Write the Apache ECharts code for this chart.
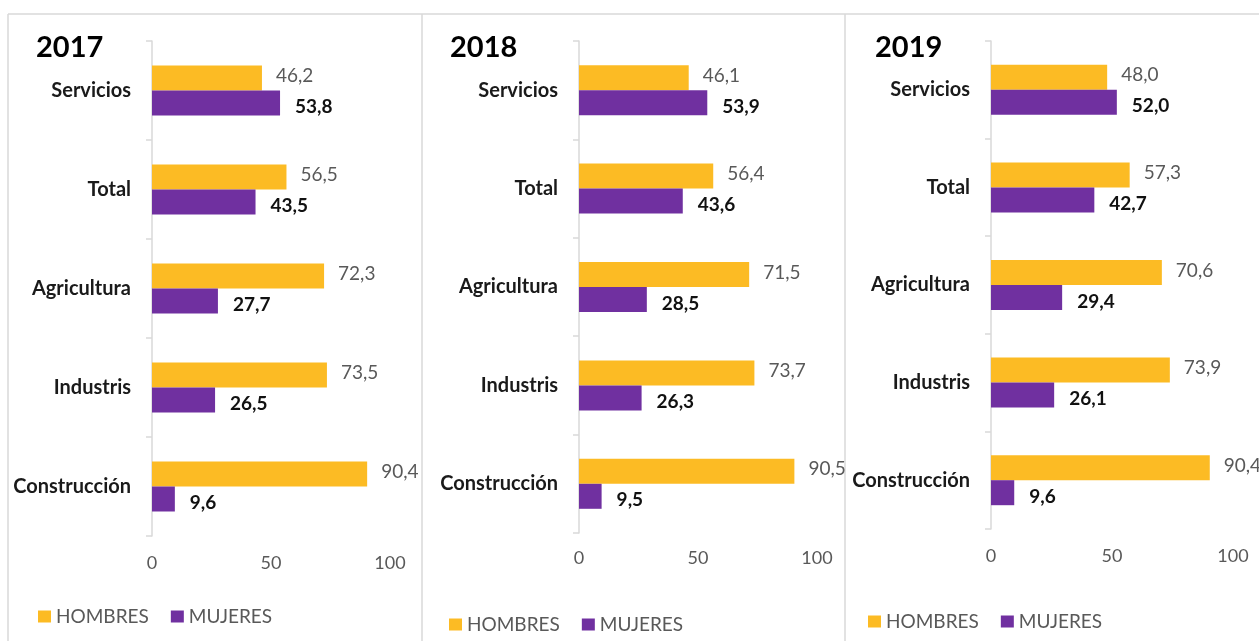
<!DOCTYPE html>
<html>
<head>
<meta charset="utf-8">
<script src="https://cdn.jsdelivr.net/npm/echarts@6/dist/echarts.min.js"></script>
<style>
	html, body { margin: 0; padding: 0; background: #fff; }
	#main { width: 1259px; height: 641px; }
</style>
</head>
<body>
<div id="main"></div>
<script>
var categories = ["Servicios", "Total", "Agricultura", "Industris", "Construcción"];
var years = ["2017", "2018", "2019"];
var seriesNames = ["HOMBRES", "MUJERES"];
var hombres2017 = [46.2, 56.5, 72.3, 73.5, 90.4];
var mujeres2017 = [53.8, 43.5, 27.7, 26.5, 9.6];
var hombres2018 = [46.1, 56.4, 71.5, 73.7, 90.5];
var mujeres2018 = [53.9, 43.6, 28.5, 26.3, 9.5];
var hombres2019 = [48.0, 57.3, 70.6, 73.9, 90.4];
var mujeres2019 = [52.0, 42.7, 29.4, 26.1, 9.6];
var xTicks = [0, 50, 100];

(function() {
	var chart = echarts.init(document.getElementById("main"));
	var font = "Lato, 'Noto Sans', sans-serif";
	var yellow = "#FCBB24", purple = "#7030A0", grey = "#D9D9D9";
	var values = [[hombres2017, mujeres2017], [hombres2018, mujeres2018], [hombres2019, mujeres2019]];

	// panel layout (pixels)
	var panels = [
		{ left: 152, width: 238, top: 41, height: 495, xm: 18, title: 36, legX: 33, legY: 602 },
		{ left: 579, width: 238, top: 41, height: 492, xm: 16, title: 450, legX: 444, legY: 610 },
		{ left: 991, width: 242, top: 41, height: 488, xm: 18, title: 875, legX: 863, legY: 607 }
	];

	function fmt(p) { return p.value.toFixed(1).replace(".", ","); }

	var grid = [], xAxis = [], yAxis = [], series = [], legend = [], graphic = [];
	panels.forEach(function(p, i) {
		grid.push({ left: p.left, top: p.top, width: p.width, height: p.height, containLabel: false });
		xAxis.push({
			type: "value", gridIndex: i, min: xTicks[0], max: xTicks[xTicks.length - 1], interval: xTicks[1] - xTicks[0],
			axisLine: { show: false }, axisTick: { show: false }, splitLine: { show: false },
			axisLabel: { color: "#595959", fontSize: 18, fontFamily: font, margin: p.xm }
		});
		yAxis.push({
			type: "category", gridIndex: i, data: categories, inverse: true,
			axisLine: { show: true, lineStyle: { color: grey, width: 1.5 } },
			axisTick: { show: true, length: 6, lineStyle: { color: grey, width: 1.5 } },
			axisLabel: { color: "#1a1a1a", fontSize: 20, fontWeight: "bold", fontFamily: font, margin: 21 }
		});
		series.push({
			name: seriesNames[0], type: "bar", xAxisIndex: i, yAxisIndex: i, data: values[i][0],
			barWidth: 25, barGap: "0%", itemStyle: { color: yellow },
			label: { show: true, position: "right", distance: 14, offset: [0, -2], color: "#595959", fontSize: 19, fontFamily: font, formatter: fmt }
		});
		series.push({
			name: seriesNames[1], type: "bar", xAxisIndex: i, yAxisIndex: i, data: values[i][1],
			barWidth: 25, barGap: "0%", itemStyle: { color: purple },
			label: { show: true, position: "right", distance: 15, offset: [0, 4], color: "#111", fontSize: 19, fontWeight: "bold", fontFamily: font, formatter: fmt }
		});
		legend.push({
			data: seriesNames, left: p.legX, top: p.legY, itemWidth: 13, itemHeight: 12, itemGap: 22,
			icon: "rect", textStyle: { color: "#595959", fontSize: 19, fontFamily: font }, selectedMode: false
		});
		graphic.push({
			type: "text", left: p.title, top: 33,
			style: { text: years[i], font: "bold 29px " + font, fill: "#000" }
		});
	});

	// panel frames
	[8, 422, 845].forEach(function(x) {
		graphic.push({ type: "line", shape: { x1: x, y1: 14, x2: x, y2: 641 }, style: { stroke: grey, lineWidth: 1.5 } });
	});
	graphic.push({ type: "line", shape: { x1: 8, y1: 14, x2: 1259, y2: 14 }, style: { stroke: grey, lineWidth: 1.5 } });

	chart.setOption({
		backgroundColor: "#fff",
		animation: false,
		grid: grid, xAxis: xAxis, yAxis: yAxis, series: series, legend: legend, graphic: graphic
	});
})();
</script>
</body>
</html>
